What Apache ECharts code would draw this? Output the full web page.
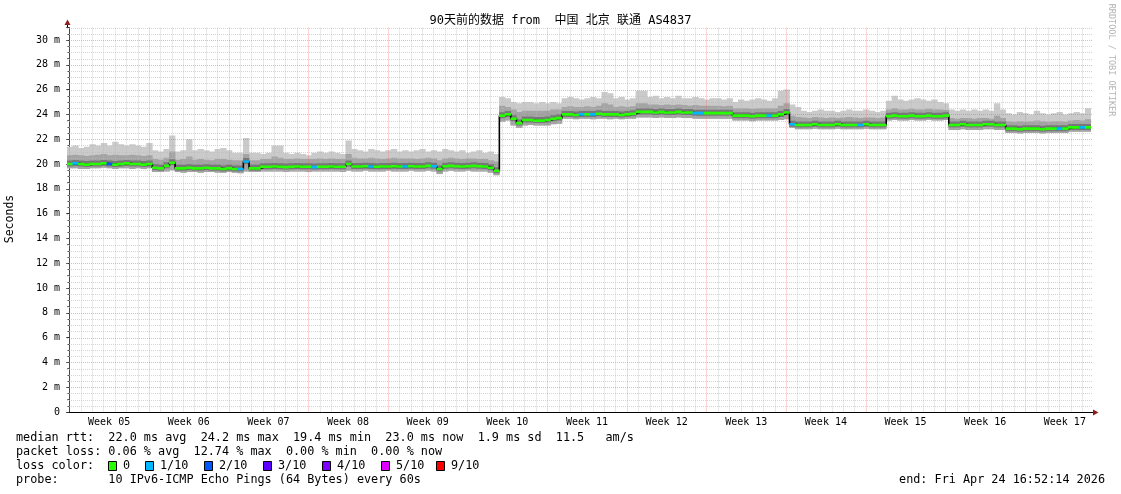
<!DOCTYPE html>
<html>
<head>
<meta charset="utf-8">
<script src="https://cdn.jsdelivr.net/npm/echarts@6/dist/echarts.min.js"></script>
<style>
html,body{margin:0;padding:0;background:#ffffff;}
#chart{width:1121px;height:494px;}
</style>
</head>
<body>
<div id="chart"></div>
<script>
// ---------------- DATA ----------------
const titleText = '90天前的数据 from  中国 北京 联通 AS4837';
const yAxisName = 'Seconds';
const weekLabels = ['Week 05','Week 06','Week 07','Week 08','Week 09','Week 10','Week 11','Week 12','Week 13','Week 14','Week 15','Week 16','Week 17'];
const weekMid = [3.5,10.5,17.5,24.5,31.5,38.5,45.5,52.5,59.5,66.5,73.5,80.5,87.5]; // days from first week boundary
const tStart = -0.2, tStep = 0.5, tEnd = 89.8;      // time span in days

// median RTT (ms) per half-day bucket
const med = [
20.0,20.05,20.0,19.95,20.0,20.0,20.05,20.0,19.95,20.0,20.05,20.0,20.0,19.95,20.0,
19.7,19.65,19.85,20.1,19.65,19.65,19.7,19.65,19.65,19.7,19.65,19.65,19.6,19.65,19.6,
19.6,20.2,19.65,19.65,19.78,19.78,19.8,19.78,19.75,19.78,19.8,19.78,19.78,19.75,19.78,
19.78,19.8,19.78,19.78,20.0,19.8,19.8,19.82,19.8,19.78,19.8,19.8,19.82,19.8,19.8,
19.82,19.8,19.8,19.85,19.82,19.6,19.82,19.85,19.82,19.8,19.82,19.85,19.82,19.8,19.7,19.45,
23.9,24.0,23.65,23.3,23.55,23.55,23.5,23.5,23.55,23.65,23.7,
24.0,24.0,23.95,24.0,24.0,24.0,24.05,24.0,24.0,24.0,23.95,24.0,24.05,
24.2,24.2,24.2,24.15,24.2,24.15,24.15,24.2,24.15,24.15,24.1,24.1,24.1,24.1,24.1,24.1,24.1,
23.9,23.9,23.9,23.85,23.9,23.9,23.9,23.9,24.0,24.15,
23.2,23.15,23.15,23.15,23.2,23.15,23.15,23.15,23.2,23.15,23.15,23.15,23.15,23.2,23.15,23.15,23.15,
23.85,23.9,23.85,23.85,23.9,23.85,23.85,23.9,23.85,23.85,23.9,
23.15,23.15,23.2,23.15,23.15,23.15,23.2,23.2,23.15,23.15,
22.85,22.85,22.8,22.85,22.85,22.85,22.8,22.85,22.85,22.85,22.85,22.95,22.95,22.95,22.95
];
// top of smoke (max ping)
const hi = [
21.4,21.5,21.3,21.4,21.6,21.5,21.7,21.5,21.8,21.6,21.5,21.6,21.5,21.4,21.7,
21.1,21.0,21.2,22.3,21.0,21.1,22.0,21.1,21.2,21.1,21.0,21.2,21.3,21.1,20.9,
20.9,22.1,20.9,20.9,20.8,20.9,21.5,21.5,20.9,20.8,20.9,20.8,20.7,20.9,21.0,
20.9,21.0,20.9,20.8,21.9,21.2,21.1,21.0,21.2,21.1,21.0,21.1,21.2,21.0,21.1,
21.0,21.1,21.2,21.0,21.1,21.0,21.2,21.1,21.0,21.1,20.9,21.0,21.1,20.9,21.0,20.8,
25.4,25.3,25.0,24.9,25.0,25.0,24.9,25.0,24.9,25.0,24.9,
25.3,25.4,25.3,25.2,25.3,25.4,25.3,25.8,25.7,25.3,25.4,25.2,25.3,
25.9,25.9,25.4,25.5,25.3,25.4,25.3,25.5,25.3,25.3,25.4,25.3,25.2,25.3,25.3,25.2,25.3,
25.0,25.2,25.1,25.2,25.3,25.2,25.1,25.3,25.9,26.0,
24.8,24.6,24.3,24.2,24.3,24.4,24.3,24.3,24.2,24.3,24.4,24.3,24.3,24.4,24.3,24.2,24.3,
25.1,25.5,25.2,25.1,25.2,25.3,25.2,25.1,25.2,25.0,24.9,
24.4,24.3,24.4,24.3,24.4,24.3,24.4,24.3,24.9,24.4,
24.1,24.0,24.2,24.1,24.0,24.3,24.1,24.0,24.1,24.2,24.0,24.1,24.2,24.1,24.5
];
// top of the darker inner smoke
const q = [
20.7,20.75,20.7,20.65,20.7,20.75,20.8,20.7,20.75,20.7,20.7,20.75,20.7,20.65,20.7,
20.4,20.35,20.5,21.0,20.35,20.4,20.6,20.35,20.4,20.35,20.3,20.4,20.4,20.35,20.3,
20.3,20.8,20.3,20.3,20.4,20.4,20.6,20.5,20.4,20.4,20.45,20.4,20.4,20.4,20.45,
20.4,20.45,20.4,20.4,20.8,20.5,20.45,20.45,20.5,20.45,20.4,20.45,20.5,20.45,20.45,
20.45,20.4,20.45,20.5,20.45,20.3,20.45,20.5,20.45,20.4,20.45,20.45,20.4,20.4,20.3,20.2,
24.7,24.6,24.4,24.2,24.3,24.3,24.3,24.3,24.3,24.4,24.4,
24.6,24.65,24.6,24.6,24.65,24.6,24.7,24.9,24.8,24.6,24.65,24.6,24.65,
24.9,24.9,24.8,24.8,24.75,24.8,24.75,24.8,24.75,24.7,24.75,24.7,24.7,24.7,24.7,24.65,24.7,
24.5,24.5,24.5,24.45,24.5,24.5,24.5,24.5,24.7,24.9,
23.9,23.8,23.75,23.7,23.8,23.75,23.7,23.75,23.7,23.75,23.8,23.75,23.7,23.75,23.75,23.7,23.75,
24.4,24.5,24.4,24.4,24.45,24.4,24.4,24.45,24.4,24.4,24.35,
23.7,23.65,23.7,23.7,23.65,23.7,23.7,23.65,23.9,23.7,
23.45,23.4,23.45,23.4,23.45,23.5,23.45,23.4,23.45,23.45,23.4,23.5,23.55,23.5,23.6
];
// bottom of smoke (min ping)
const lo = [
19.65,19.65,19.6,19.6,19.65,19.65,19.7,19.65,19.6,19.65,19.65,19.6,19.65,19.6,19.65,
19.35,19.35,19.4,19.5,19.35,19.3,19.35,19.35,19.3,19.35,19.35,19.3,19.3,19.35,19.3,
19.25,19.4,19.35,19.35,19.4,19.4,19.4,19.4,19.35,19.4,19.4,19.4,19.35,19.4,19.4,
19.4,19.4,19.4,19.35,19.45,19.4,19.4,19.45,19.4,19.4,19.4,19.45,19.4,19.4,19.4,
19.45,19.4,19.4,19.45,19.4,19.2,19.4,19.45,19.4,19.4,19.45,19.4,19.4,19.4,19.3,19.1,
23.4,23.5,23.1,22.9,23.1,23.15,23.1,23.1,23.1,23.2,23.25,
23.65,23.65,23.6,23.65,23.65,23.6,23.65,23.65,23.6,23.65,23.6,23.65,23.65,
23.75,23.75,23.75,23.7,23.75,23.7,23.7,23.75,23.7,23.7,23.65,23.65,23.65,23.65,23.65,23.65,23.65,
23.5,23.5,23.5,23.45,23.5,23.5,23.5,23.5,23.55,23.6,
22.9,22.8,22.8,22.8,22.85,22.8,22.8,22.8,22.85,22.8,22.8,22.8,22.8,22.85,22.8,22.8,22.8,
23.5,23.55,23.5,23.5,23.55,23.5,23.5,23.55,23.5,23.5,23.55,
22.75,22.75,22.8,22.75,22.75,22.75,22.8,22.8,22.75,22.75,
22.5,22.5,22.45,22.5,22.5,22.5,22.45,22.5,22.5,22.5,22.5,22.6,22.6,22.6,22.6
];
// lost pings (out of 10) per bucket
const loss = [
0,1,0,0,0,0,0,2,0,0,0,0,0,0,0,
0,0,0,0,0,0,0,0,0,0,0,0,0,0,0,
1,1,0,0,0,0,0,0,0,0,0,0,0,1,0,
0,0,0,0,0,0,0,0,1,0,0,0,0,0,1,
0,0,0,0,1,0,0,0,0,0,0,0,0,0,0,0,
0,0,0,0,0,0,0,0,0,0,0,
0,0,0,1,0,1,0,0,0,0,0,0,0,
0,0,0,0,0,0,0,0,0,0,1,1,0,0,0,0,0,
0,0,0,0,0,0,1,0,0,0,
1,0,0,0,0,0,0,0,0,0,0,0,1,0,0,0,0,
0,0,0,0,0,0,0,0,0,0,0,
0,0,0,0,0,0,0,0,0,0,
0,0,0,0,0,0,0,0,0,1,0,0,0,1,0
];
const lossPalette = ['#26ff00','#00b8ff','#0059ff','#5e00ff','#7e00ff','#dd00ff','#ff0000','#ff0000','#ff0000','#ff0000','#ff0000'];
const legendLabels = ['0','1/10','2/10','3/10','4/10','5/10','9/10'];
const legendColors = ['#26ff00','#00b8ff','#0059ff','#5e00ff','#7e00ff','#dd00ff','#ff0000'];
const statLines = [
  'median rtt:  22.0 ms avg  24.2 ms max  19.4 ms min  23.0 ms now  1.9 ms sd  11.5   am/s',
  'packet loss: 0.06 % avg  12.74 % max  0.00 % min  0.00 % now',
  'loss color:',
  'probe:       10 IPv6-ICMP Echo Pings (64 Bytes) every 60s'
];
const endText = 'end: Fri Apr 24 16:52:14 2026';
const credit = 'RRDTOOL / TOBI OETIKER';

// ---------------- BUILD ----------------
const N = med.length;
[hi, q, lo, loss].forEach(a => { if (a.length !== N) throw new Error('length mismatch ' + a.length + ' vs ' + N); });
const smokeData = [], medData = [], segData = [];
for (let i = 0; i < N; i++) {
  const t = tStart + i * tStep;
  smokeData.push([t, Math.min(t + tStep, tEnd), lo[i], q[i], hi[i]]);
  medData.push([t, med[i]]);
  segData.push([t, Math.min(t + tStep, tEnd), med[i], loss[i]]);
}
medData.push([tEnd, med[N-1]]);

const MONO = "'DejaVu Sans Mono', 'Noto Sans CJK SC', monospace";
// grid line positions: [orientation(0 = vertical, 1 = horizontal), value, major?]
const gridLines = [];
for (let d = 0; d <= 89; d++) gridLines.push([0, d, d % 7 === 0 ? 1 : 0]);
for (let v = 0.5; v <= 31; v += 0.5) gridLines.push([1, v, v % 2 === 0 ? 1 : 0]);

function bandRenderer(loDim, hiDim, color) {
  return function (params, api) {
    const p0 = api.coord([api.value(0), api.value(hiDim)]);
    const p1 = api.coord([api.value(1), api.value(loDim)]);
    return { type: 'rect', shape: { x: p0[0] - 0.3, y: p0[1], width: p1[0] - p0[0] + 0.6, height: p1[1] - p0[1] },
      style: { fill: color } };
  };
}
function segRenderer(h, offset, fillFn) {
  return function (params, api) {
    const p0 = api.coord([api.value(0), api.value(2)]);
    const p1 = api.coord([api.value(1), api.value(2)]);
    return {
      type: 'rect',
      shape: { x: p0[0] - 0.3, y: p0[1] - h / 2 + offset, width: p1[0] - p0[0] + 0.6, height: h },
      style: { fill: fillFn(api) }
    };
  };
}
function gridRenderer(params, api) {
  const cs = params.coordSys;
  const vert = api.value(0) === 0, val = api.value(1), major = api.value(2) === 1;
  const stroke = major ? 'rgba(255,90,90,0.5)' : 'rgba(185,185,185,0.6)';
  let shape;
  if (vert) {
    const x = Math.round(api.coord([val, 0])[0]) + 0.5;
    shape = { x1: x, y1: cs.y, x2: x, y2: cs.y + cs.height };
  } else {
    const y = Math.round(api.coord([0, val])[1]) + 0.5;
    shape = { x1: cs.x, y1: y, x2: cs.x + cs.width + 2, y2: y };
  }
  return { type: 'line', shape: shape, style: { stroke: stroke, lineWidth: 1, lineDash: [1, 1] } };
}

const ARROW = '#8e1c1c';
const graphics = [];
graphics.push({ type: 'text', x: 560.5, y: 21, style: { text: titleText, font: '12px ' + MONO, fill: '#000', textAlign: 'center', textVerticalAlign: 'middle' } });
graphics.push({ type: 'text', x: 10, y: 219, rotation: Math.PI / 2, style: { text: yAxisName, font: '11.5px ' + MONO, fill: '#000', textAlign: 'center', textVerticalAlign: 'middle' } });
graphics.push({ type: 'text', x: 1111, y: 60, rotation: -Math.PI / 2, style: { text: credit, font: '8.5px ' + MONO, fill: '#b4b4b4', textAlign: 'center', textVerticalAlign: 'middle' } });
// axis extensions and arrow heads
graphics.push({ type: 'line', shape: { x1: 67.5, y1: 28, x2: 67.5, y2: 24 }, style: { stroke: '#000', lineWidth: 1 } });
graphics.push({ type: 'polygon', shape: { points: [[64.5, 25], [70.5, 25], [67.5, 19.5]] }, style: { fill: ARROW } });
graphics.push({ type: 'line', shape: { x1: 1090, y1: 412.5, x2: 1094, y2: 412.5 }, style: { stroke: '#000', lineWidth: 1 } });
graphics.push({ type: 'polygon', shape: { points: [[1093, 409.5], [1093, 415.5], [1098.5, 412.5]] }, style: { fill: ARROW } });
statLines.forEach((s, k) => {
  graphics.push({ type: 'text', x: 16, y: 438 + k * 14, style: { text: s, font: '11.8px ' + MONO, fill: '#000', textAlign: 'left', textVerticalAlign: 'middle' } });
});
const legendBoxX = [108, 145, 204, 263, 322, 381, 436];
legendLabels.forEach((lab, k) => {
  graphics.push({ type: 'rect', shape: { x: legendBoxX[k] + 0.5, y: 461.5, width: 8, height: 9 }, style: { fill: legendColors[k], stroke: '#000', lineWidth: 1 } });
  graphics.push({ type: 'text', x: legendBoxX[k] + 15, y: 466, style: { text: lab, font: '11.8px ' + MONO, fill: '#000', textAlign: 'left', textVerticalAlign: 'middle' } });
});
graphics.push({ type: 'text', x: 1105, y: 480, style: { text: endText, font: '11.8px ' + MONO, fill: '#000', textAlign: 'right', textVerticalAlign: 'middle' } });

const chart = echarts.init(document.getElementById('chart'), null, { renderer: 'canvas' });
chart.setOption({
  animation: false,
  backgroundColor: '#ffffff',
  grid: { left: 67, top: 27.6, width: 1024, height: 384.4, containLabel: false },
  xAxis: {
    type: 'value', min: tStart, max: tEnd,
    axisLine: { show: true, onZero: false, lineStyle: { color: '#000', width: 1 } },
    axisTick: { show: false }, axisLabel: { show: false }, splitLine: { show: false }
  },
  yAxis: {
    type: 'value', min: 0, max: 31, interval: 2,
    axisLine: { show: true, lineStyle: { color: '#333', width: 1 } },
    axisTick: { show: true, length: 3, lineStyle: { color: '#333' } },
    minorTick: { show: true, splitNumber: 4, length: 2, lineStyle: { color: '#555' } },
    axisLabel: { showMaxLabel: false, margin: 7, color: '#000', fontSize: 10, fontFamily: MONO, formatter: v => v === 0 ? '0' : v + ' m' },
    splitLine: { show: false }
  },
  graphic: graphics,
  series: [
    { type: 'custom', data: smokeData, z: 1, silent: true, clip: true, encode: { x: [0, 1], y: [2, 4] },
      renderItem: bandRenderer(2, 4, '#cacaca') },
    { type: 'custom', data: smokeData, z: 1.5, silent: true, clip: true, encode: { x: [0, 1], y: [2, 3] },
      renderItem: bandRenderer(2, 3, '#a4a4a4') },
    { type: 'custom', data: gridLines, z: 2, silent: true, clip: false, renderItem: gridRenderer },
    { type: 'custom', data: segData, z: 3, silent: true, clip: true, encode: { x: [0, 1], y: 2 },
      renderItem: segRenderer(6, -0.5, () => '#787878') },
    { type: 'line', step: 'end', data: medData, symbol: 'none', silent: true, z: 4,
      lineStyle: { color: '#000', width: 1.6 } },
    { type: 'custom', data: segData, z: 5, silent: true, clip: true, encode: { x: [0, 1], y: 2 },
      renderItem: segRenderer(2.6, 0, api => lossPalette[api.value(3)] || '#ff0000') },
    { type: 'custom', data: weekMid.map((m, k) => [m, 0]), z: 6, silent: true, clip: false,
      encode: { x: 0, y: 1 },
      renderItem: function (params, api) {
        const p = api.coord([api.value(0), 0]);
        return { type: 'text', x: p[0], y: p[1] + 10, style: { text: weekLabels[params.dataIndex], font: '10px ' + MONO, fill: '#000', textAlign: 'center', textVerticalAlign: 'middle' } };
      } }
  ]
});
</script>
</body>
</html>
